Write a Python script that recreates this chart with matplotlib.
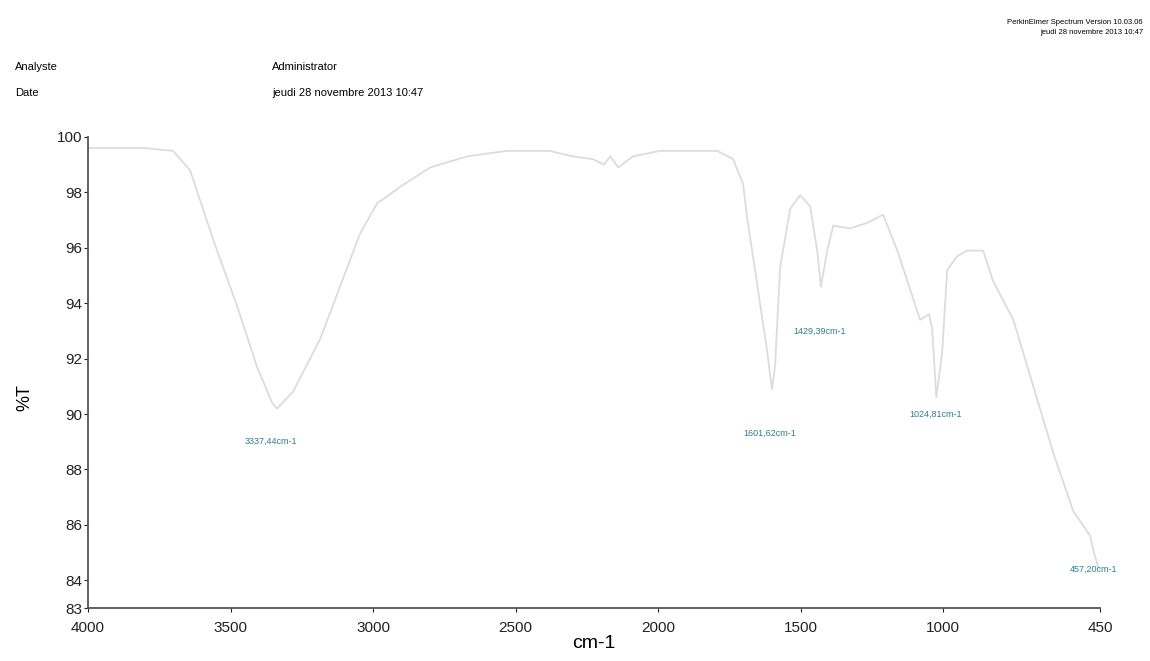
import matplotlib
matplotlib.use("Agg")
import matplotlib.pyplot as plt
import numpy as np

# spectrum (wavenumber cm-1, %T)
wavenumber = [4000, 3900, 3800, 3702, 3642, 3561, 3477, 3407, 3354, 3337, 3281, 3186,
              3116, 3046, 2986, 2905, 2800, 2670, 2530, 2380, 2300, 2228, 2190, 2168,
              2140, 2088, 1993, 1912, 1793, 1737, 1702, 1688, 1653, 1618, 1601, 1590,
              1572, 1537, 1502, 1467, 1442, 1429, 1407, 1386, 1326, 1267, 1211, 1161,
              1116, 1081, 1050, 1039, 1024, 1004, 986, 951, 916, 860, 825, 754, 684,
              614, 544, 484, 474, 457, 450]
transmittance = [99.6, 99.6, 99.6, 99.5, 98.8, 96.3, 93.9, 91.7, 90.4, 90.2, 90.8, 92.7,
                 94.6, 96.5, 97.6, 98.2, 98.9, 99.3, 99.5, 99.5, 99.3, 99.2, 99.0, 99.3,
                 98.9, 99.3, 99.5, 99.5, 99.5, 99.2, 98.3, 97.1, 94.7, 92.3, 90.9, 91.7,
                 95.3, 97.4, 97.9, 97.5, 95.9, 94.6, 95.9, 96.8, 96.7, 96.9, 97.2, 95.9,
                 94.5, 93.4, 93.6, 93.1, 90.6, 92.2, 95.2, 95.7, 95.9, 95.9, 94.8, 93.4,
                 91.0, 88.6, 86.5, 85.6, 85.1, 84.5, 84.4]

peak_labels = ["3337,44cm-1", "1601,62cm-1", "1429,39cm-1", "1024,81cm-1", "457,20cm-1"]
peak_x = [3360, 1607, 1432, 1028, 474]
peak_y = [89.0, 89.3, 93.0, 90.0, 84.4]

xticks = [4000, 3500, 3000, 2500, 2000, 1500, 1000, 450]
yticks = [100, 98, 96, 94, 92, 90, 88, 86, 84, 83]

plt.rcParams['font.family'] = ['Liberation Sans', 'DejaVu Sans']

fig = plt.figure(figsize=(11.5, 6.61), dpi=100)
ax = fig.add_axes([88 / 1150, 1 - 608 / 661, (1100 - 88) / 1150, (608 - 137) / 661])

ax.plot(wavenumber, transmittance, color="#dcdcdc", lw=1.3)

for lab, x, y in zip(peak_labels, peak_x, peak_y):
    ax.text(x, y, lab, color="#2f7f8c", fontsize=6.5, ha="center", va="center")

ax.set_xlim(4000, 450)
ax.set_ylim(83, 100)
ax.set_xticks(xticks)
ax.set_yticks(yticks)
ax.tick_params(labelsize=11, length=3, colors="#222222")
ax.tick_params(axis="y", pad=1)
ax.tick_params(axis="x", pad=6)
for s in ["top", "right"]:
    ax.spines[s].set_visible(False)
for s in ["left", "bottom"]:
    ax.spines[s].set_color("#555555")
    ax.spines[s].set_linewidth(1.3)

ax.set_xlabel("cm-1", fontsize=14, labelpad=0)
fig.text(25 / 1150, 1 - 398 / 661, "%T", rotation=90, fontsize=13, ha="center", va="center")

fig.text(15 / 1150, 1 - 67 / 661, "Analyste", fontsize=8, va="center")
fig.text(15 / 1150, 1 - 93 / 661, "Date", fontsize=8, va="center")
fig.text(272 / 1150, 1 - 67 / 661, "Administrator", fontsize=8, va="center")
fig.text(272 / 1150, 1 - 93 / 661, "jeudi 28 novembre 2013 10:47", fontsize=8, va="center")
fig.text(1143 / 1150, 1 - 22 / 661, "PerkinElmer Spectrum Version 10.03.06",
         fontsize=5.5, ha="right", va="center")
fig.text(1143 / 1150, 1 - 33 / 661, "jeudi 28 novembre 2013 10:47",
         fontsize=5.5, ha="right", va="center")

fig.savefig("out.png", dpi=100, facecolor="white")
